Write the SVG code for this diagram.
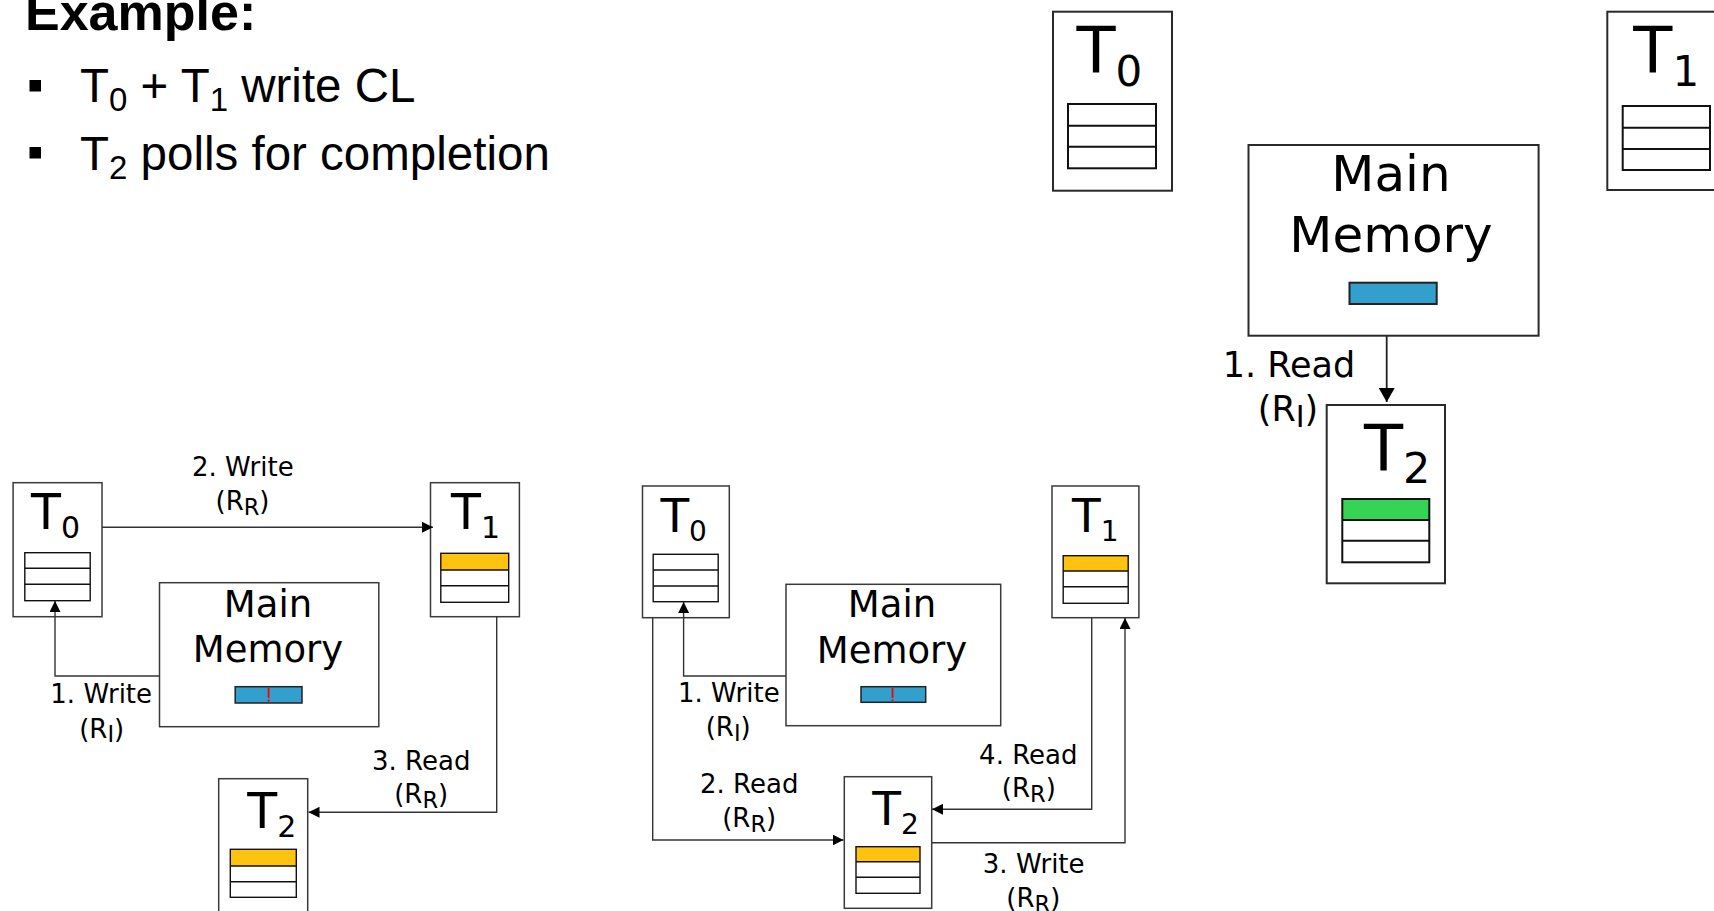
<svg xmlns="http://www.w3.org/2000/svg" width="1714" height="911" viewBox="0 0 1714 911">
<style>
.box{fill:#fff;stroke:#3a3a3a;stroke-width:1.5}
.boxL{fill:#fff;stroke:#2a2a2a;stroke-width:2}
.tbl{fill:none;stroke:#111;stroke-width:1.4}
.tblL{fill:none;stroke:#111;stroke-width:2}
.yel{fill:#FFC20E}
.grn{fill:#35D454}
.blu{fill:#339FCD;stroke:#222;stroke-width:1.5}
.blL{fill:#339FCD;stroke:#222;stroke-width:2}
.red{stroke:#ff0000;stroke-width:1.8;fill:none}
.conn{fill:none;stroke:#333;stroke-width:1.4}
.connL{fill:none;stroke:#222;stroke-width:1.8}
.t{font-family:"DejaVu Sans",sans-serif;fill:#000}
.lbl{font-family:"DejaVu Sans",sans-serif;font-size:26px;text-anchor:middle;fill:#000}
.lblL{font-family:"DejaVu Sans",sans-serif;font-size:35px;text-anchor:middle;fill:#000}
.sb{font-size:22.5px}
.mm{font-family:"DejaVu Sans",sans-serif;text-anchor:middle;fill:#000}
.hd{font-family:"Liberation Sans",Arial,sans-serif;fill:#000}
</style>
<defs>
<marker id="arr" viewBox="0 0 11 11" refX="11" refY="5.5" markerWidth="11" markerHeight="11" markerUnits="userSpaceOnUse" orient="auto"><path d="M0,0L11,5.5L0,11z" fill="#000"/></marker>
<marker id="arrL" viewBox="0 0 14 16" refX="14" refY="8" markerWidth="14" markerHeight="16" markerUnits="userSpaceOnUse" orient="auto"><path d="M0,0L14,8L0,16z" fill="#000"/></marker>
</defs>
<rect x="0" y="0" width="1714" height="911" fill="#fff"/>

<g id="title">
<text class="hd" x="25" y="30" font-size="52" font-weight="bold">Example:</text>
<rect x="29.5" y="80" width="11.5" height="11.5" fill="#000"/>
<text class="hd" x="80" y="101.5" font-size="47.5">T<tspan font-size="33" dy="9">0</tspan><tspan dy="-9"> + T</tspan><tspan font-size="33" dy="9">1</tspan><tspan dy="-9"> write CL</tspan></text>
<rect x="29.5" y="147" width="11.5" height="11.5" fill="#000"/>
<text class="hd" x="80" y="170" font-size="47.5">T<tspan font-size="33" dy="9">2</tspan><tspan dy="-9"> polls for completion</tspan></text>
</g>

<g id="tr-t0">
<rect class="boxL" x="1053" y="11.7" width="119" height="179"/>
<text class="t" x="1076.5" y="73.3" font-size="64">T<tspan font-size="42" dy="12.7">0</tspan></text>
<rect class="tblL" x="1068" y="104" width="88" height="64.3"/>
<path class="tblL" d="M1068,125.7H1156M1068,146.7H1156"/>
</g>
<g id="tr-t1">
<rect class="boxL" x="1607.3" y="11.7" width="120" height="178.3"/>
<text class="t" x="1633.3" y="73.3" font-size="64">T<tspan font-size="42" dy="12.7">1</tspan></text>
<rect class="tblL" x="1622.7" y="106" width="87.3" height="64"/>
<path class="tblL" d="M1622.7,127.7H1710M1622.7,149H1710"/>
</g>
<g id="tr-mm">
<rect class="boxL" x="1248.5" y="145" width="290.1" height="190.7"/>
<text class="mm" x="1391" y="190.7" font-size="50">Main</text>
<text class="mm" x="1391" y="251.7" font-size="50">Memory</text>
<rect class="blL" x="1349.5" y="282.7" width="87.2" height="21.3"/>
</g>
<g id="tr-t2">
<rect class="boxL" x="1326.7" y="405" width="118.3" height="178.3"/>
<text class="t" x="1364" y="470.7" font-size="64">T<tspan font-size="43" dy="12.6">2</tspan></text>
<rect class="grn" x="1342.3" y="499" width="87" height="21"/>
<rect class="tblL" x="1342.3" y="499" width="87" height="63.3"/>
<path class="tblL" d="M1342.3,520H1429.3M1342.3,540.7H1429.3"/>
</g>

<g id="d1-t0">
<rect class="box" x="13.1" y="482.7" width="88.9" height="134"/>
<text class="t" x="31" y="529.3" font-size="49">T<tspan font-size="30" dy="9">0</tspan></text>
<rect class="tbl" x="24.8" y="552.7" width="65.4" height="48"/>
<path class="tbl" d="M24.8,568.3H90.2M24.8,584.3H90.2"/>
</g>
<g id="d1-t1">
<rect class="box" x="430.5" y="482.7" width="88.9" height="134"/>
<text class="t" x="451" y="529.3" font-size="49">T<tspan font-size="30" dy="9">1</tspan></text>
<rect class="yel" x="440.8" y="553.3" width="67.9" height="16.7"/>
<rect class="tbl" x="440.8" y="553.3" width="67.9" height="49"/>
<path class="tbl" d="M440.8,570H508.7M440.8,585.7H508.7"/>
</g>
<g id="d1-mm">
<rect class="box" x="159.5" y="582.7" width="219.3" height="144"/>
<text class="mm" x="268" y="616.7" font-size="37">Main</text>
<text class="mm" x="268" y="661.7" font-size="37">Memory</text>
<rect class="blu" x="235.2" y="686.7" width="66.8" height="16.3"/>
<path class="red" d="M268.6,688V698M268.6,699.5V701.7"/>
</g>
<g id="d1-t2">
<rect class="box" x="218.7" y="778.7" width="89" height="140"/>
<text class="t" x="247.3" y="828.3" font-size="49">T<tspan font-size="30" dy="9">2</tspan></text>
<rect class="yel" x="230.3" y="849.3" width="66" height="16.7"/>
<rect class="tbl" x="230.3" y="849.3" width="66" height="48"/>
<path class="tbl" d="M230.3,866H296.3M230.3,881.7H296.3"/>
</g>

<g id="d2-t0">
<rect class="box" x="642.5" y="486" width="86.8" height="131.7"/>
<text class="t" x="660.4" y="531.7" font-size="47">T<tspan font-size="28" dy="9">0</tspan></text>
<rect class="tbl" x="653.2" y="554.3" width="65" height="47.4"/>
<path class="tbl" d="M653.2,570H718.2M653.2,586H718.2"/>
</g>
<g id="d2-t1">
<rect class="box" x="1052" y="486" width="86.9" height="131.7"/>
<text class="t" x="1072" y="531.7" font-size="47">T<tspan font-size="28" dy="9">1</tspan></text>
<rect class="yel" x="1063.2" y="555.7" width="65" height="15.3"/>
<rect class="tbl" x="1063.2" y="555.7" width="65" height="47.6"/>
<path class="tbl" d="M1063.2,571H1128.2M1063.2,586.7H1128.2"/>
</g>
<g id="d2-mm">
<rect class="box" x="786" y="584.3" width="214.7" height="141.4"/>
<text class="mm" x="892" y="616.7" font-size="37">Main</text>
<text class="mm" x="892" y="662.7" font-size="37">Memory</text>
<rect class="blu" x="861" y="686.7" width="64.7" height="15.6"/>
<path class="red" d="M892.5,688V698M892.5,699.5V701.5"/>
</g>
<g id="d2-t2">
<rect class="box" x="844.3" y="776.7" width="87.4" height="131.6"/>
<text class="t" x="872.3" y="825" font-size="47">T<tspan font-size="28" dy="9">2</tspan></text>
<rect class="yel" x="856" y="846.7" width="64" height="15"/>
<rect class="tbl" x="856" y="846.7" width="64" height="46.6"/>
<path class="tbl" d="M856,861.7H920M856,877.3H920"/>
</g>

<g id="connectors">
<path class="connL" d="M1386.7,335.7V402" marker-end="url(#arrL)"/>
<path class="conn" d="M159.5,676H55V601" marker-end="url(#arr)"/>
<path class="conn" d="M102,527.3H433" marker-end="url(#arr)"/>
<path class="conn" d="M496.7,616.7V812.3H308.5" marker-end="url(#arr)"/>
<path class="conn" d="M786,676H683.6V602" marker-end="url(#arr)"/>
<path class="conn" d="M652.7,617.7V840H843.5" marker-end="url(#arr)"/>
<path class="conn" d="M1091.7,617.7V809.3H932" marker-end="url(#arr)"/>
<path class="conn" d="M931.7,842.7H1125V618" marker-end="url(#arr)"/>
</g>

<g id="connector-labels">
<text class="lblL" x="1289" y="376.7">1. Read</text>
<text class="lblL" x="1288" y="421">(R<tspan font-size="30" dy="5.5">I</tspan><tspan dy="-5.5">)</tspan></text>
<text class="lbl" x="242.8" y="476">2. Write</text>
<text class="lbl" x="242.5" y="510">(R<tspan class="sb" dy="4.5">R</tspan><tspan dy="-4.5">)</tspan></text>
<text class="lbl" x="101.2" y="703.3">1. Write</text>
<text class="lbl" x="101.7" y="737.7">(R<tspan class="sb" dy="4.5">I</tspan><tspan dy="-4.5">)</tspan></text>
<text class="lbl" x="421.2" y="770">3. Read</text>
<text class="lbl" x="421.2" y="803.3">(R<tspan class="sb" dy="4.5">R</tspan><tspan dy="-4.5">)</tspan></text>
<text class="lbl" x="728.8" y="701.7">1. Write</text>
<text class="lbl" x="728.2" y="736">(R<tspan class="sb" dy="4.5">I</tspan><tspan dy="-4.5">)</tspan></text>
<text class="lbl" x="749.2" y="793.3">2. Read</text>
<text class="lbl" x="749.2" y="827.3">(R<tspan class="sb" dy="4.5">R</tspan><tspan dy="-4.5">)</tspan></text>
<text class="lbl" x="1028.3" y="764">4. Read</text>
<text class="lbl" x="1028.8" y="797.3">(R<tspan class="sb" dy="4.5">R</tspan><tspan dy="-4.5">)</tspan></text>
<text class="lbl" x="1033.7" y="873.3">3. Write</text>
<text class="lbl" x="1033.3" y="907">(R<tspan class="sb" dy="4.5">R</tspan><tspan dy="-4.5">)</tspan></text>
</g>
</svg>
